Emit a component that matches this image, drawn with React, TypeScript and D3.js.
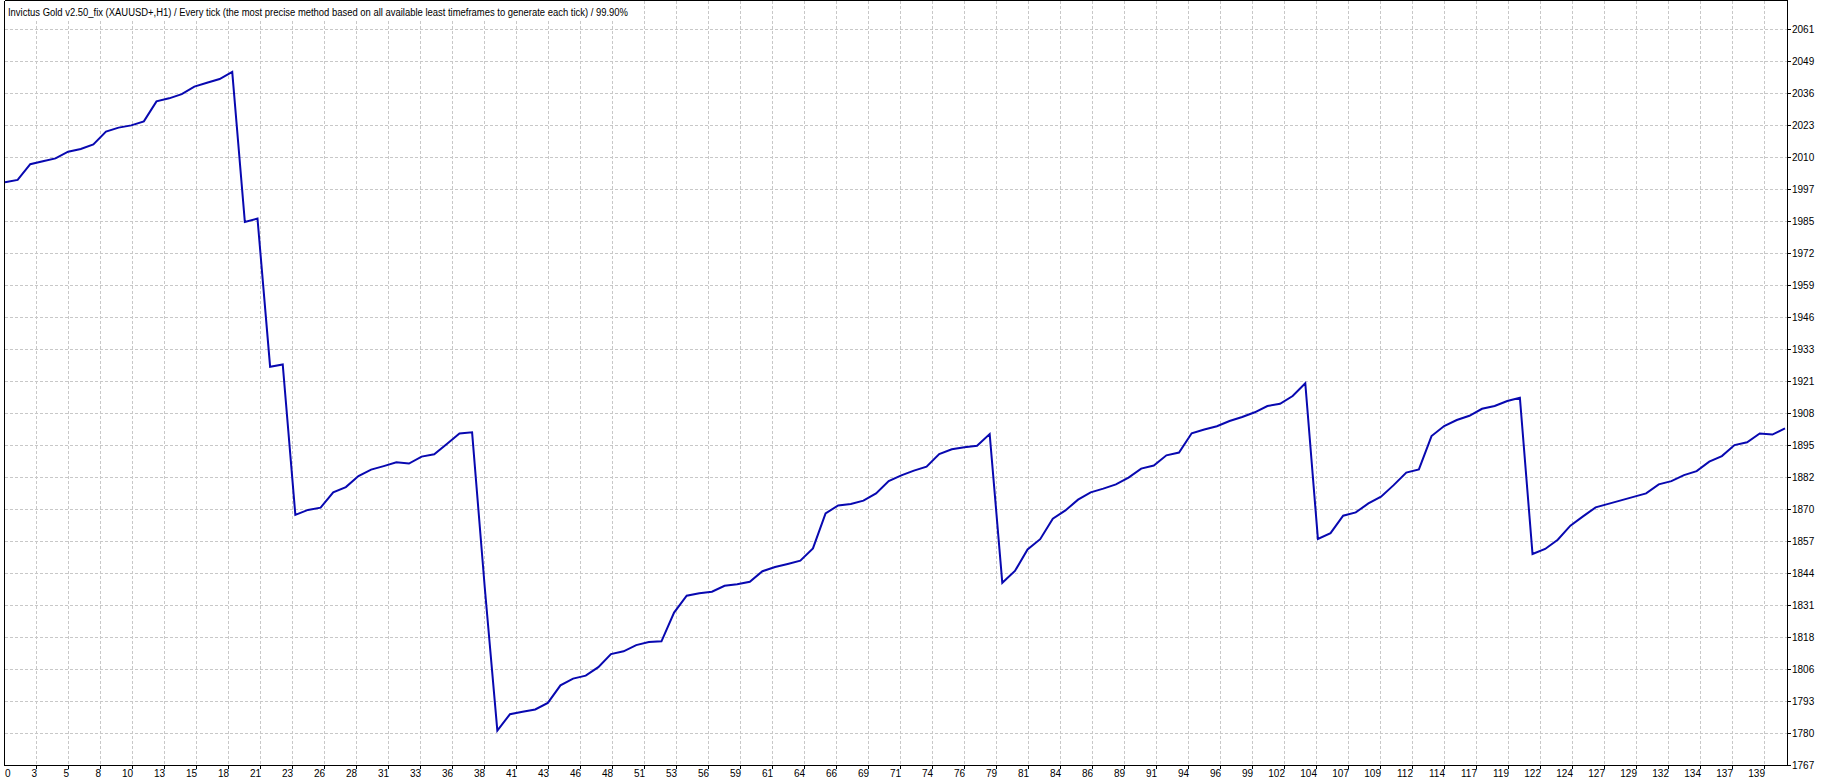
import React, { useEffect } from "react";
import * as d3 from "d3";

const TITLE =
  "Invictus Gold v2.50_fix (XAUUSD+,H1) / Every tick (the most precise method based on all available least timeframes to generate each tick) / 99.90%";

const xTickLabels = [
  "0", "3", "5", "8", "10", "13", "15", "18", "21", "23", "26", "28", "31", "33", "36", "38", "41", "43", "46", "48",
  "51", "53", "56", "59", "61", "64", "66", "69", "71", "74", "76", "79", "81", "84", "86", "89", "91", "94", "96",
  "99", "102", "104", "107", "109", "112", "114", "117", "119", "122", "124", "127", "129", "132", "134", "137", "139",
];

const yTickLabels = [
  "1767", "1780", "1793", "1806", "1818", "1831", "1844", "1857", "1870", "1882", "1895", "1908",
  "1921", "1933", "1946", "1959", "1972", "1985", "1997", "2010", "2023", "2036", "2049", "2061",
];
const yMin = 1767;
const yMax = 2061;

// balance after each trade (trade 0 .. 141)
const balance = [
  1999.8, 2000.7, 2007.0, 2008.2, 2009.3, 2012.0, 2013.1, 2014.9, 2020.0, 2021.6,
  2022.5, 2024.1, 2032.1, 2033.3, 2035.0, 2038.0, 2039.5, 2041.0, 2043.9, 1983.9,
  1985.3, 1926.1, 1927.0, 1866.9, 1868.9, 1869.8, 1875.9, 1878.0, 1882.4, 1885.0,
  1886.4, 1887.9, 1887.4, 1890.2, 1891.1, 1895.2, 1899.4, 1899.9, 1838.1, 1780.7,
  1787.3, 1788.3, 1789.2, 1791.8, 1798.8, 1801.5, 1802.7, 1806.1, 1811.3, 1812.4,
  1814.9, 1816.1, 1816.4, 1827.9, 1834.6, 1835.6, 1836.2, 1838.6, 1839.2, 1840.2,
  1844.4, 1846.1, 1847.3, 1848.6, 1853.5, 1867.5, 1870.7, 1871.3, 1872.6, 1875.5,
  1880.4, 1882.7, 1884.6, 1886.2, 1891.2, 1893.1, 1893.9, 1894.5, 1899.2, 1839.8,
  1844.5, 1853.1, 1857.2, 1865.4, 1868.7, 1873.0, 1875.9, 1877.4, 1879.1, 1881.8,
  1885.4, 1886.6, 1890.7, 1891.8, 1899.5, 1901.0, 1902.3, 1904.4, 1906.0, 1907.9,
  1910.4, 1911.3, 1914.4, 1919.5, 1857.3, 1859.6, 1866.6, 1867.9, 1871.5, 1874.2,
  1878.8, 1883.8, 1885.1, 1898.4, 1902.4, 1904.8, 1906.5, 1909.3, 1910.4, 1912.4,
  1913.7, 1851.3, 1853.3, 1857.0, 1862.6, 1866.3, 1869.9, 1871.3, 1872.7, 1874.1,
  1875.5, 1879.1, 1880.4, 1882.8, 1884.4, 1888.2, 1890.4, 1894.8, 1895.9, 1899.4,
  1899.0, 1901.5,
];

const W = 1832;
const H = 782;
const L = 4.5;
const R = 1787.5;
const T = 0.5;
const B = 765.5;
const GRID = 32;
const FONT = "Tahoma, 'Liberation Sans', Arial, sans-serif";

export default function App() {
  useEffect(() => {
    document.body.style.margin = "0";
  }, []);

  const x = d3.scaleLinear().domain([0, balance.length - 1]).range([5, 1785]);
  const y = d3.scaleLinear().domain([yMin, yMax]).range([765, 765 - GRID * (yTickLabels.length - 1)]);
  const gx = d3
    .scaleLinear()
    .domain([0, xTickLabels.length - 1])
    .range([L, L + GRID * (xTickLabels.length - 1)]);
  const yStep = (yMax - yMin) / (yTickLabels.length - 1);
  const yVals = yTickLabels.map((_, k) => yMin + k * yStep);

  const line = d3
    .line<number>()
    .x((_, i) => x(i))
    .y((d) => y(d));

  return (
    <svg
      width={W}
      height={H}
      style={{ display: "block", position: "absolute", left: 0, top: 0, background: "#fff" }}
    >
      <rect x={0} y={0} width={W} height={H} fill="#ffffff" />
      {/* vertical grid */}
      {xTickLabels.map((_, k) =>
        k === 0 ? null : (
          <line
            key={"vg" + k}
            x1={gx(k)}
            x2={gx(k)}
            y1={T}
            y2={B}
            stroke="#c8c8c8"
            strokeDasharray="3,2"
            shapeRendering="crispEdges"
          />
        )
      )}
      {/* horizontal grid */}
      {yVals.map((v, k) =>
        k === 0 ? null : (
          <line
            key={"hg" + k}
            x1={L}
            x2={R}
            y1={y(v) + 0.5}
            y2={y(v) + 0.5}
            stroke="#c8c8c8"
            strokeDasharray="3,2"
            shapeRendering="crispEdges"
          />
        )
      )}
      {/* title background + text */}
      <rect x={5} y={1} width={628} height={19} fill="#ffffff" />
      <text
        x={8}
        y={16}
        fontFamily={FONT}
        fontSize={10}
        fill="#000"
        textLength={620}
        lengthAdjust="spacingAndGlyphs"
      >
        {TITLE}
      </text>
      {/* frame */}
      <line x1={L} x2={L} y1={T} y2={B} stroke="#000" shapeRendering="crispEdges" />
      <line x1={L} x2={R} y1={T} y2={T} stroke="#000" shapeRendering="crispEdges" />
      <line x1={R} x2={R} y1={T} y2={B} stroke="#000" shapeRendering="crispEdges" />
      <line x1={L} x2={R} y1={B} y2={B} stroke="#000" shapeRendering="crispEdges" />
      {/* y axis ticks & labels */}
      {yVals.map((v, k) => (
        <g key={"yt" + k}>
          <line
            x1={R}
            x2={R + 3}
            y1={y(v) + 0.5}
            y2={y(v) + 0.5}
            stroke="#000"
            shapeRendering="crispEdges"
          />
          <text x={1792} y={y(v) + 4} fontFamily={FONT} fontSize={10} fill="#000">
            {yTickLabels[k]}
          </text>
        </g>
      ))}
      {/* x axis ticks & labels */}
      {xTickLabels.map((lab, k) => (
        <g key={"xt" + k}>
          {k > 0 && (
            <line
              x1={gx(k)}
              x2={gx(k)}
              y1={B}
              y2={B + 3}
              stroke="#000"
              shapeRendering="crispEdges"
            />
          )}
          <text
            x={k === 0 ? gx(k) + 0.5 : gx(k) + 0.5}
            y={777}
            textAnchor={k === 0 ? "start" : "end"}
            fontFamily={FONT}
            fontSize={10}
            fill="#000"
          >
            {lab}
          </text>
        </g>
      ))}
      {/* balance line */}
      <path
        d={line(balance) || ""}
        fill="none"
        stroke="#0808b0"
        strokeWidth={2}
        strokeLinejoin="miter"
      />
    </svg>
  );
}
